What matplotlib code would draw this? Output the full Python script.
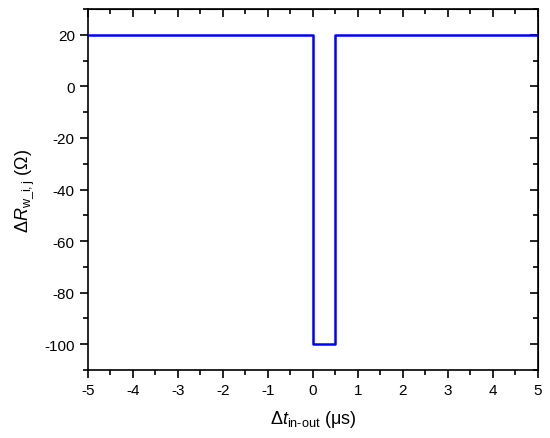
import matplotlib
matplotlib.use("Agg")
from matplotlib import pyplot as plt
from matplotlib.ticker import MultipleLocator

plt.rcParams['font.family'] = ['Liberation Sans', 'DejaVu Sans']
plt.rcParams['axes.unicode_minus'] = False
plt.rcParams['mathtext.fontset'] = 'custom'
plt.rcParams['mathtext.rm'] = 'Liberation Sans'
plt.rcParams['mathtext.it'] = 'Liberation Sans:italic'

# step profile of resistance change vs. time offset
t_us = [-5, 0, 0, 0.5, 0.5, 5]
dR_ohm = [20, 20, -100, -100, 20, 20]

fig = plt.figure(figsize=(5.5, 4.39), dpi=100)
ax = fig.add_axes([0.16, 0.155, 0.818, 0.822])

ax.plot(t_us, dR_ohm, color='#0000ff', lw=1.8, zorder=10)

ax.set_xlim(-5, 5)
ax.set_ylim(-110, 30)
ax.xaxis.set_major_locator(MultipleLocator(1))
ax.xaxis.set_minor_locator(MultipleLocator(0.5))
ax.yaxis.set_major_locator(MultipleLocator(20))
ax.yaxis.set_minor_locator(MultipleLocator(10))

for s in ax.spines.values():
    s.set_linewidth(1.2)

ax.tick_params(which='both', direction='out', width=1.2, labelsize=11)
ax.tick_params(which='major', length=6)
ax.tick_params(which='minor', length=3.5)

# mirrored ticks on top/right point inward
sec_x = ax.secondary_xaxis('top')
sec_x.xaxis.set_major_locator(MultipleLocator(1))
sec_x.xaxis.set_minor_locator(MultipleLocator(0.5))
sec_x.tick_params(which='both', direction='in', width=1.2, labeltop=False)
sec_x.tick_params(which='major', length=6)
sec_x.tick_params(which='minor', length=3.5)
sec_y = ax.secondary_yaxis('right')
sec_y.yaxis.set_major_locator(MultipleLocator(20))
sec_y.yaxis.set_minor_locator(MultipleLocator(10))
sec_y.tick_params(which='both', direction='in', width=1.2, labelright=False)
sec_y.tick_params(which='major', length=6)
sec_y.tick_params(which='minor', length=3.5)
sec_x.set_zorder(1)
sec_y.set_zorder(1)

ax.set_xlabel(r'$\Delta\mathit{t}_{\mathrm{in\text{-}out}}$ (μs)', fontsize=13, labelpad=8)
ax.set_ylabel(r'$\Delta\mathit{R}_{\mathrm{w\_i,j}}$ (Ω)', fontsize=13, labelpad=6)

fig.savefig("out.png", dpi=100)
